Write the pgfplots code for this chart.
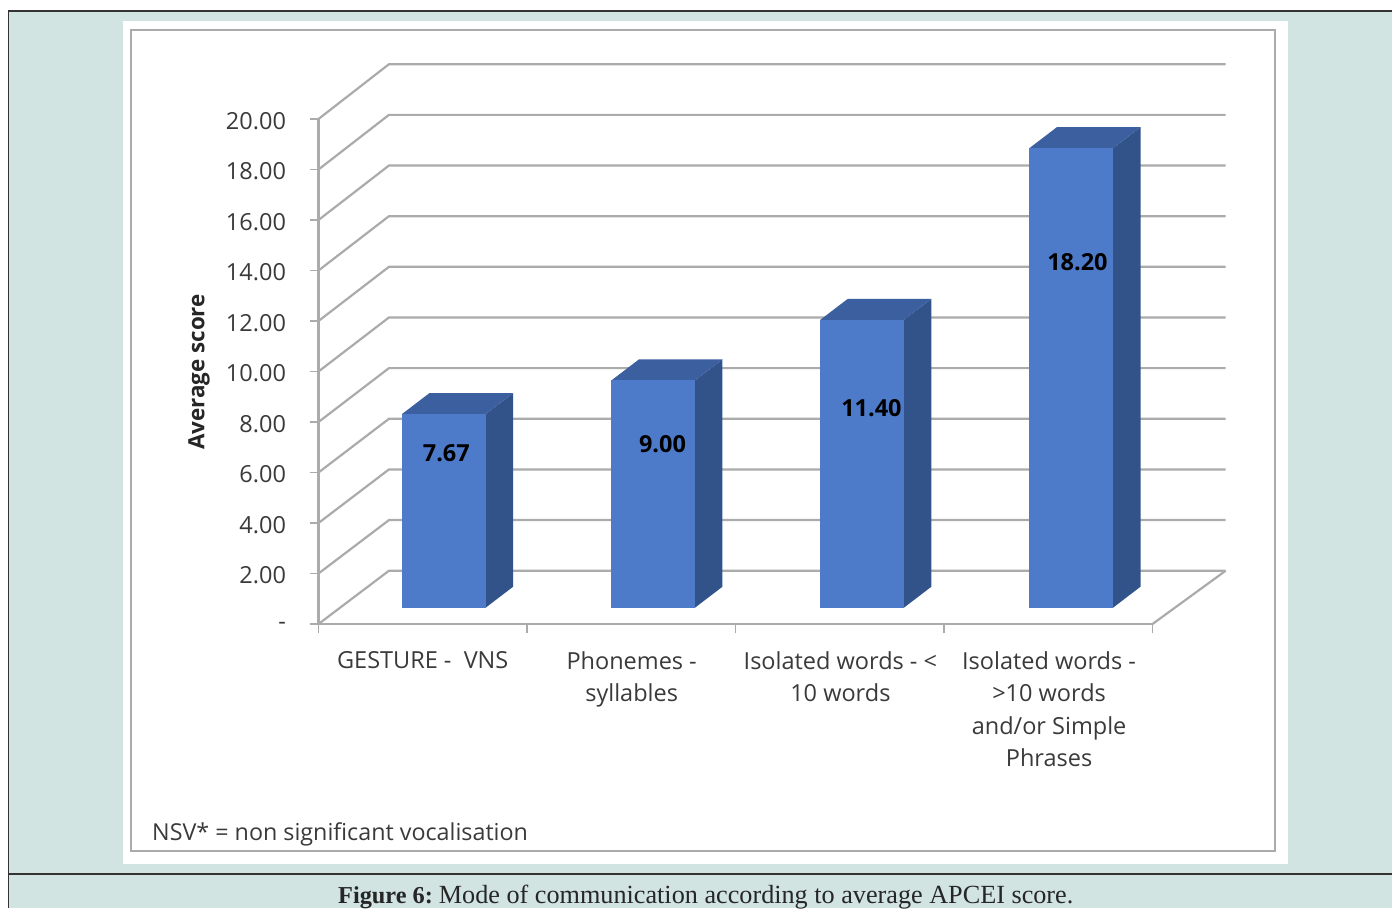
\documentclass[border=0pt]{standalone}
\usepackage{fontspec}
\setmainfont{Open Sans}
\newfontfamily\capfont{Liberation Serif}
\usepackage{pgfplots}
\pgfplotsset{compat=1.18}

\definecolor{pagebg}{HTML}{D1E4E2}
\definecolor{gridgray}{HTML}{ABABAB}
\definecolor{barfront}{HTML}{4E7BC9}
\definecolor{bartop}{HTML}{3B5F9F}
\definecolor{barside}{HTML}{325389}
\definecolor{inktext}{HTML}{3A3A3A}

% Extruded column: #1 = category position, #2 = value
\newcommand{\columnbar}[2]{%
  \addplot[fill=barside,draw=none] coordinates
    {({#1+0.3015},0.645) ({#1+0.4335},1.477) ({#1+0.4335},{1.477+#2}) ({#1+0.3015},{0.645+#2})};
  \addplot[fill=bartop,draw=none] coordinates
    {({#1-0.0995},{0.645+#2}) ({#1+0.3015},{0.645+#2}) ({#1+0.4335},{1.477+#2}) ({#1+0.0325},{1.477+#2})};
  \addplot[fill=barfront,draw=none] coordinates
    {({#1-0.0995},0.645) ({#1+0.3015},0.645) ({#1+0.3015},{0.645+#2}) ({#1-0.0995},{0.645+#2})};
}

\begin{document}
\begin{tikzpicture}[x=1pt,y=1pt]
\useasboundingbox (0,0) rectangle (1392,908);
\clip (0,0) rectangle (1392,908);

% page furniture
\fill[pagebg] (0,0) rectangle (1392,908);
\fill[white] (0,0) rectangle (8,908);
\fill[white] (0,897) rectangle (1392,908);
\draw[black!80,line width=1.3pt] (8.5,0) -- (8.5,897) -- (1392,897);
\draw[black!80,line width=1.3pt] (8.5,34) -- (1392,34);
\fill[white] (123,44) rectangle (1288,887);
\draw[gridgray,line width=2pt] (130.5,57) rectangle (1275,878);

\begin{axis}[
  at={(318.5pt,284pt)}, anchor=south west,
  scale only axis, width=834pt, height=505pt,
  xmin=-0.5, xmax=3.5, ymin=0, ymax=20,
  clip=false,
  axis x line=bottom, axis y line=left,
  axis line style={gridgray,line width=2.2pt,-},
  tick align=outside,
  ytick={0,2,...,20},
  yticklabels={-\hspace{30pt},2.00,4.00,6.00,8.00,10.00,12.00,14.00,16.00,18.00,20.00},
  y tick label style={font=\fontsize{23.5}{28}\selectfont,text=inktext,xshift=-20pt,yshift=-2pt},
  y tick style={gridgray,line width=1.5pt},
  major tick length=9pt,
  xtick={-0.5,0.5,1.5,2.5,3.5},
  xticklabels={},
  x tick style={gridgray,line width=1.5pt},
  extra x ticks={0,1.002,2.003,3.004},
  extra x tick style={major tick length=0pt,tick style={draw=none}},
  extra x tick labels={{GESTURE -\ \ VNS},{Phonemes -\\syllables},{Isolated words - <\\10 words},{Isolated words -\\>10 words\\and/or Simple\\Phrases}},
  x tick label style={font=\fontsize{23.5}{32.5}\selectfont,text=inktext,align=center,anchor=north,yshift=-24pt},
]
% receding wall and floor lines
\pgfplotsinvokeforeach{0,2,...,20}{
  \addplot[gridgray,line width=2.2pt] coordinates {(-0.5,#1) (-0.162,{2.11+1.003*#1}) (3.851,{2.11+1.003*#1})};
}
\addplot[gridgray,line width=2.2pt] coordinates {(3.5,0) (3.851,2.11)};

\columnbar{0}{7.67}
\columnbar{1.004}{9.00}
\columnbar{2.006}{11.40}
\columnbar{3.009}{18.20}

\node[font=\fontsize{23.5}{28}\bfseries\selectfont] at (axis cs:0.113,6.76) {7.67};
\node[font=\fontsize{23.5}{28}\bfseries\selectfont] at (axis cs:1.150,7.12) {9.00};
\node[font=\fontsize{23.5}{28}\bfseries\selectfont] at (axis cs:2.152,8.55) {11.40};
\node[font=\fontsize{23.5}{28}\bfseries\selectfont] at (axis cs:3.140,14.34) {18.20};
\end{axis}

\node[rotate=90,font=\fontsize{22.4}{26}\bfseries\selectfont,text=black!85] at (199,536) {Average score};
\node[anchor=base west,font=\fontsize{23.3}{26}\selectfont,text=inktext,inner sep=0pt] at (152,68) {NSV* = non significant vocalisation};
\node[anchor=base west,font=\capfont\fontsize{26.2}{30}\selectfont,text=black!85,inner sep=0pt] at (338,5) {{\fontsize{24.3}{30}\selectfont\bfseries Figure 6:}\hspace{6pt}Mode of communication according to average APCEI score.};
\end{tikzpicture}
\end{document}
